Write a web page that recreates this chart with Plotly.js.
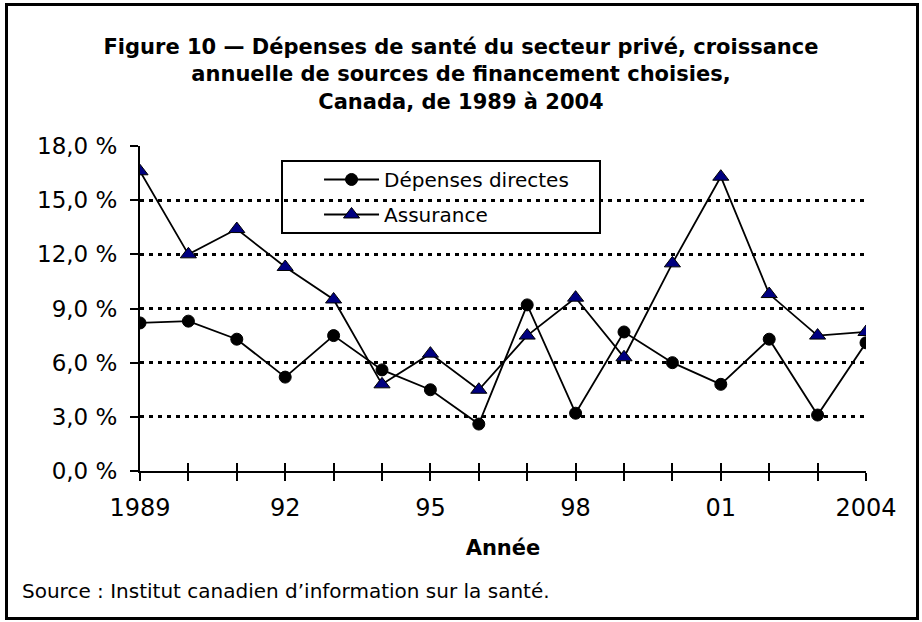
<!DOCTYPE html>
<html>
<head>
<meta charset="utf-8">
<script src="https://cdn.plot.ly/plotly-3.0.1.min.js"></script>
<style>
  html, body { margin: 0; padding: 0; background: #fff; }
  #chart { width: 922px; height: 622px; position: absolute; left: 0; top: 0; }
  #frame { position: absolute; left: 5px; top: 3px; width: 908px; height: 611px; border: 3px solid #000; pointer-events: none; }
</style>
</head>
<body>
<div id="chart"></div>
<div id="frame"></div>
<script>
const years = [1989, 1990, 1991, 1992, 1993, 1994, 1995, 1996, 1997, 1998, 1999, 2000, 2001, 2002, 2003, 2004];
const depensesDirectes = [8.2, 8.3, 7.3, 5.2, 7.5, 5.6, 4.5, 2.6, 9.2, 3.2, 7.7, 6.0, 4.8, 7.3, 3.1, 7.1];
const assurance = [16.6, 12.0, 13.4, 11.3, 9.5, 4.8, 6.5, 4.5, 7.5, 9.6, 6.3, 11.5, 16.3, 9.8, 7.5, 7.7];
const xTickText = ['1989', '', '', '92', '', '', '95', '', '', '98', '', '', '01', '', '', '2004'];
const yTickVals = [0, 3, 6, 9, 12, 15, 18];
const yTickText = ['0,0 %', '3,0 %', '6,0 %', '9,0 %', '12,0 %', '15,0 %', '18,0 %'];
const seriesNames = ['Dépenses directes', 'Assurance'];

const FONT = 'DejaVu Sans, Verdana, sans-serif';

const traces = [
  {
    x: years, y: depensesDirectes, name: seriesNames[0], type: 'scatter', mode: 'lines+markers',
    legendgroup: 'g1',
    line: { color: '#000', width: 1.8 },
    marker: { symbol: 'circle', size: 12, color: '#000', line: { color: '#000', width: 1 } }
  },
  {
    x: years, y: assurance, name: seriesNames[1], type: 'scatter', mode: 'lines+markers',
    legendgroup: 'g2',
    line: { color: '#000', width: 1.8 },
    marker: { symbol: 'triangle-up', size: 14, color: '#000080', line: { color: '#000', width: 1 } }
  },
  { x: [], y: [], xaxis: 'x2', showlegend: false, hoverinfo: 'skip' }
];

const layout = {
  width: 922, height: 622,
  margin: { l: 140, r: 56, t: 146, b: 151 },
  paper_bgcolor: '#fff', plot_bgcolor: '#fff',
  font: { family: FONT, color: '#000', size: 20 },
  title: {
    text: '<b>Figure 10 — Dépenses de santé du secteur privé, croissance<br>annuelle de sources de financement choisies,<br>Canada, de 1989 à 2004</b>',
    font: { family: FONT, size: 21, color: '#000' },
    x: 0.5, xref: 'container', xanchor: 'center',
    y: 0.913, yref: 'container', yanchor: 'top'
  },
  xaxis: {
    range: [1989, 2004], tickmode: 'array', tickvals: years, ticktext: xTickText,
    ticks: 'outside', ticklen: 8, tickwidth: 2, tickcolor: '#000',
    showline: true, linecolor: '#000', linewidth: 2,
    showgrid: false, zeroline: false,
    tickfont: { family: FONT, size: 24, color: '#000' },
    ticklabelstandoff: 6,
    title: { text: '<b>Année</b>', font: { family: FONT, size: 21, color: '#000' }, standoff: 20 },
    fixedrange: true
  },
  xaxis2: {
    overlaying: 'x', anchor: 'y', side: 'bottom',
    range: [1989, 2004], tickmode: 'array', tickvals: years, ticktext: years.map(() => ''),
    ticks: 'inside', ticklen: 8, tickwidth: 2, tickcolor: '#000',
    showline: false, showgrid: false, zeroline: false, showticklabels: false, fixedrange: true
  },
  yaxis: {
    range: [0, 18], tickmode: 'array', tickvals: yTickVals, ticktext: yTickText,
    ticks: 'outside', ticklen: 8, tickwidth: 2, tickcolor: '#000',
    showline: true, linecolor: '#000', linewidth: 2,
    showgrid: true, gridcolor: '#000', gridwidth: 3, griddash: '4px,5px',
    zeroline: false,
    tickfont: { family: FONT, size: 23, color: '#000' },
    ticklabelstandoff: 8,
    fixedrange: true
  },
  legend: {
    x: 0.1984, y: 0.957, xanchor: 'left', yanchor: 'top',
    bgcolor: 'rgba(0,0,0,0)', borderwidth: 0,
    font: { family: FONT, size: 20, color: '#000' },
    itemwidth: 55, indentation: 35,
    traceorder: 'grouped', tracegroupgap: 6
  },
  shapes: [
    {
      type: 'rect', xref: 'x domain', yref: 'y domain',
      x0: 0.1956, x1: 0.6336, y0: 0.7323, y1: 0.9538,
      fillcolor: '#fff', line: { color: '#000', width: 2 }, layer: 'below'
    }
  ],
  annotations: [
    {
      text: 'Source : Institut canadien d’information sur la santé.',
      xref: 'paper', yref: 'paper', x: -0.1653, y: -0.369,
      xanchor: 'left', yanchor: 'middle', showarrow: false,
      font: { family: FONT, size: 20, color: '#000' }
    }
  ],
  showlegend: true
};

Plotly.newPlot('chart', traces, layout, { displayModeBar: false, staticPlot: true });
</script>
</body>
</html>
